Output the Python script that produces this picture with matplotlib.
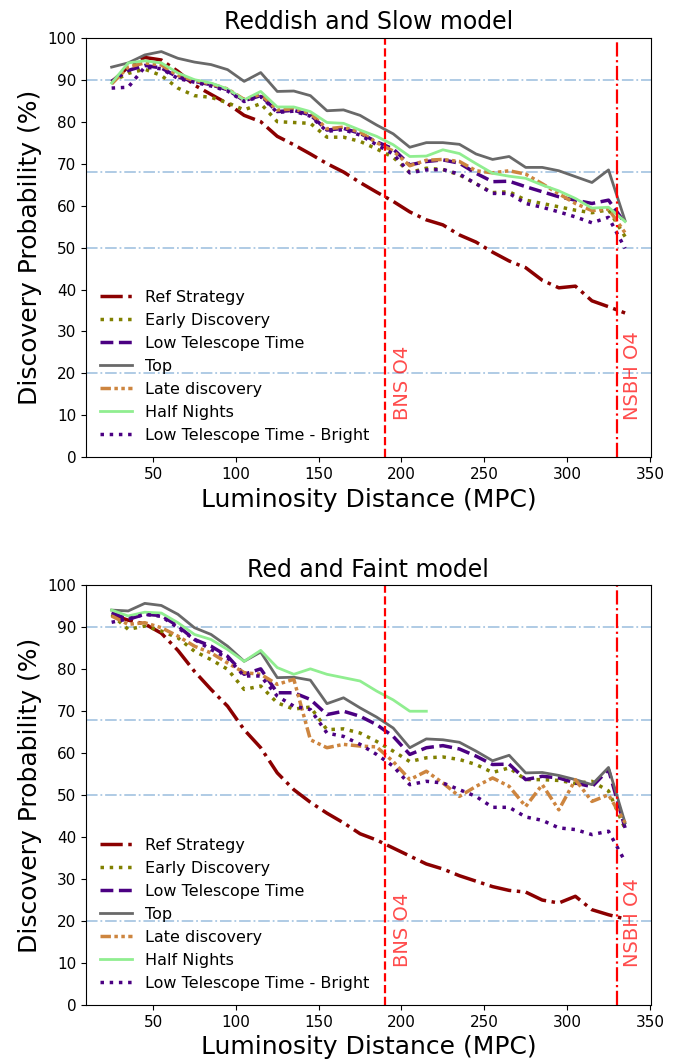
import matplotlib
matplotlib.use("Agg")
import matplotlib.pyplot as plt

# luminosity distances (MPC)
dist = [25, 35, 45, 55, 65, 75, 85, 95, 105, 115, 125, 135, 145, 155, 165, 175,
        185, 195, 205, 215, 225, 235, 245, 255, 265, 275, 285, 295, 305, 315, 325, 335]
dist_half_faint = dist[:20]

# Reddish and Slow model
slow_ref = [89.5, 93.0, 95.3, 94.7, 92.0, 88.7, 86.5, 84.3, 81.5, 80.0, 76.5, 74.5, 72.3, 70.0, 68.0, 65.5,
            63.2, 61.0, 58.5, 56.6, 55.4, 53.0, 51.3, 48.9, 46.8, 45.2, 42.2, 40.4, 40.8, 37.3, 35.9, 34.4]
slow_early = [89.5, 91.5, 92.5, 91.0, 88.0, 86.2, 85.8, 84.5, 82.8, 84.3, 80.0, 79.8, 79.6, 76.3, 76.3, 75.3,
              73.5, 71.5, 67.9, 68.9, 68.6, 67.3, 65.2, 63.1, 63.3, 61.3, 60.5, 59.7, 58.9, 58.3, 59.0, 52.6]
slow_low = [89.6, 92.2, 93.4, 92.8, 90.6, 89.6, 88.8, 87.6, 85.0, 86.2, 82.4, 82.7, 81.6, 78.0, 78.4, 77.2,
            75.2, 73.5, 69.7, 70.5, 70.9, 70.1, 67.7, 65.7, 65.8, 64.5, 63.3, 62.1, 61.3, 60.5, 61.3, 55.8]
slow_top = [93.0, 94.0, 95.9, 96.7, 95.1, 94.2, 93.6, 92.4, 89.6, 91.7, 87.2, 87.3, 86.2, 82.6, 82.8, 81.5,
            79.2, 77.1, 73.9, 75.0, 75.0, 74.6, 72.3, 71.0, 71.7, 69.1, 69.1, 68.3, 66.9, 65.5, 68.5, 56.4]
slow_late = [89.0, 93.0, 94.0, 93.5, 91.0, 89.8, 89.0, 87.8, 85.3, 86.5, 82.8, 83.0, 82.0, 78.3, 78.7, 77.5,
             75.0, 73.0, 69.5, 70.8, 71.0, 70.5, 68.3, 67.8, 68.3, 67.5, 65.2, 62.8, 60.5, 58.8, 59.2, 53.5]
slow_half = [89.2, 94.0, 94.5, 94.0, 91.6, 90.0, 89.2, 87.8, 85.2, 87.2, 83.5, 83.5, 82.4, 79.8, 79.6, 78.0,
             76.5, 74.5, 71.7, 71.8, 73.3, 72.4, 70.0, 67.7, 67.0, 66.5, 64.9, 63.5, 61.7, 59.4, 59.6, 56.2]
slow_bright = [88.0, 88.2, 93.0, 92.6, 90.3, 89.4, 88.5, 87.3, 84.8, 86.0, 82.2, 82.5, 81.3, 77.7, 78.1, 76.8,
               74.5, 72.3, 67.8, 68.5, 68.6, 67.5, 65.2, 62.9, 62.9, 60.5, 59.6, 58.5, 57.3, 55.9, 57.2, 49.8]

# Red and Faint model
faint_ref = [93.0, 91.7, 90.8, 88.6, 84.5, 79.5, 75.2, 71.2, 65.6, 61.3, 55.3, 51.3, 48.3, 45.7, 43.4, 40.8,
             39.3, 37.4, 35.5, 33.6, 32.4, 30.8, 29.5, 28.2, 27.3, 26.9, 25.0, 24.3, 25.9, 22.7, 21.5, 20.5]
faint_early = [93.0, 89.5, 90.3, 89.1, 87.5, 84.3, 82.3, 80.0, 75.2, 76.0, 72.0, 70.5, 71.0, 65.6, 65.8, 64.8,
               62.8, 60.5, 58.0, 58.9, 59.1, 58.5, 57.3, 55.4, 56.5, 53.7, 53.7, 53.5, 52.8, 53.3, 51.0, 42.0]
faint_low = [93.5, 91.9, 93.1, 92.8, 90.3, 87.1, 85.5, 83.1, 78.8, 80.1, 74.4, 74.4, 72.8, 69.2, 70.0, 68.8,
             66.8, 64.0, 59.7, 61.3, 61.8, 61.0, 59.3, 57.3, 57.4, 53.7, 54.5, 54.1, 52.9, 52.0, 56.1, 42.2]
faint_top = [94.1, 93.9, 95.7, 95.2, 93.1, 89.9, 88.3, 85.5, 81.9, 84.1, 78.0, 78.1, 77.4, 71.8, 73.2, 70.8,
             68.6, 66.0, 61.3, 63.4, 63.2, 62.6, 60.5, 58.2, 59.5, 55.3, 55.4, 54.7, 53.7, 52.5, 56.6, 43.4]
faint_late = [92.7, 90.7, 91.1, 89.9, 87.9, 85.5, 83.9, 81.5, 79.2, 78.8, 76.4, 77.6, 63.2, 61.3, 62.1, 61.7,
              61.5, 58.0, 53.7, 55.7, 52.9, 49.7, 52.1, 54.1, 52.1, 47.3, 52.5, 46.5, 53.7, 48.5, 50.1, 43.4]
faint_half = [94.1, 92.7, 93.6, 93.4, 91.1, 88.3, 87.1, 84.7, 81.9, 84.5, 80.4, 78.8, 80.1, 78.8, 78.0, 77.2,
              74.8, 72.7, 70.0, 70.0]
faint_bright = [91.2, 92.0, 93.1, 92.6, 89.9, 87.1, 84.7, 82.7, 78.4, 78.4, 73.6, 71.2, 70.4, 64.8, 64.0, 62.1,
                59.7, 56.9, 52.5, 53.3, 52.9, 51.3, 49.7, 47.1, 47.1, 44.8, 44.0, 42.2, 41.8, 40.6, 41.4, 34.2]

ref_levels = [90, 68, 50, 20]
bns_o4 = 190
nsbh_o4 = 330


def draw_panel(ax, title, ref, early, low, top, late, half_x, half, bright):
    for lev in ref_levels:
        ax.axhline(lev, color='#a9c7e3', linestyle='-.', linewidth=1.3, zorder=1)
    ax.plot(dist, ref, color='darkred', linestyle='-.', linewidth=2.5, label='Ref Strategy')
    ax.plot(dist, early, color='olive', linestyle=':', linewidth=2.5, label='Early Discovery')
    ax.plot(dist, low, color='indigo', linestyle='--', linewidth=2.5, label='Low Telescope Time')
    ax.plot(dist, top, color='dimgray', linestyle='-', linewidth=2, label='Top')
    ax.plot(dist, late, color='peru', linestyle=(0, (3, 1, 1, 1, 1, 1)), linewidth=2.5,
            label='Late discovery')
    ax.plot(half_x, half, color='lightgreen', linestyle='-', linewidth=2, label='Half Nights')
    ax.plot(dist, bright, color='indigo', linestyle=':', linewidth=2.5,
            label='Low Telescope Time - Bright')
    ax.axvline(bns_o4, color='red', linestyle='--', linewidth=1.6)
    ax.axvline(nsbh_o4, color='red', linestyle='-.', linewidth=1.6)
    ax.text(bns_o4 + 5, 9, 'BNS O4', rotation=90, color='red', alpha=0.7,
            fontsize=14, ha='left', va='bottom')
    ax.text(nsbh_o4 + 4, 9, 'NSBH O4', rotation=90, color='red', alpha=0.7,
            fontsize=14, ha='left', va='bottom')
    ax.set_ylim(0, 100)
    ax.set_yticks(range(0, 101, 10))
    ax.set_xticks(range(50, 351, 50))
    ax.tick_params(labelsize=11)
    ax.set_title(title, fontsize=17)
    ax.set_xlabel('Luminosity Distance (MPC)', fontsize=18)
    ax.set_ylabel('Discovery Probability (%)', fontsize=18)
    ax.legend(loc='lower left', frameon=False, fontsize=11.5)


fig, (ax1, ax2) = plt.subplots(2, 1, figsize=(6.85, 10.63), dpi=100)
plt.subplots_adjust(left=0.1255, right=0.950, top=0.9645, bottom=0.0546, hspace=0.305)

draw_panel(ax1, 'Reddish and Slow model', slow_ref, slow_early, slow_low, slow_top,
           slow_late, dist, slow_half, slow_bright)
draw_panel(ax2, 'Red and Faint model', faint_ref, faint_early, faint_low, faint_top,
           faint_late, dist_half_faint, faint_half, faint_bright)

fig.savefig('out.png', dpi=100)
